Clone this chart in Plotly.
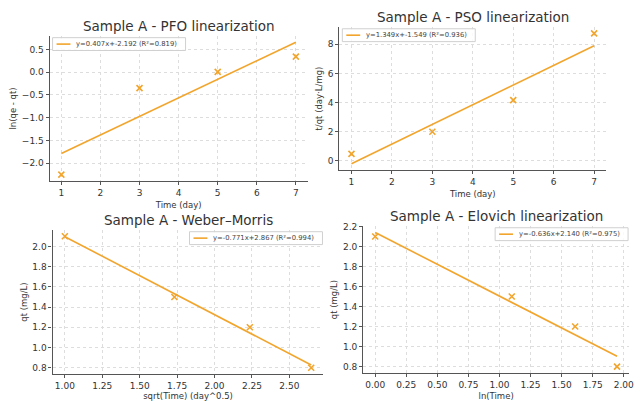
import numpy as np
import plotly.graph_objects as go

# Data
time_day = [1, 3, 5, 7]
qt = [2.1, 1.5, 1.2, 0.8]
ln_qe_qt = [-2.25, -0.35, 0.005, 0.34]
t_over_qt = [0.476, 2.0, 4.167, 8.75]
sqrt_time = [1.0, 1.732, 2.236, 2.646]
ln_time = [0.0, 1.099, 1.609, 1.946]

titles = ["Sample A - PFO linearization", "Sample A - PSO linearization",
          "Sample A - Weber\u2013Morris", "Sample A - Elovich linearization"]
slopes = [0.407, 1.349, -0.771, -0.636]
intercepts = [-2.192, -1.549, 2.867, 2.140]
r2 = [0.819, 0.936, 0.994, 0.975]
xlabels = ["Time (day)", "Time (day)", "sqrt(Time) (day^0.5)", "ln(Time)"]
ylabels = ["ln(qe - qt)", "t/qt (day\u00b7L/mg)", "qt (mg/L)", "qt (mg/L)"]

xs = [time_day, time_day, sqrt_time, ln_time]
ys = [ln_qe_qt, t_over_qt, qt, qt]

W, H = 644, 401
# pixel boxes: left, right, top, bottom
boxes = [(50, 310, 32, 179), (342, 611, 23, 168), (53, 326, 228, 374), (366, 634, 224, 373)]
xranges = [[0.7, 7.3], [0.7, 7.3], [0.918, 2.728], [-0.097, 2.043]]
yranges = [[-2.395, 0.80], [-0.65, 9.2], [0.735, 2.165], [0.733, 2.207]]
xdticks = [1, 1, 0.25, 0.25]
ydticks = [0.5, 2, 0.2, 0.2]
xtickfmt = ["", "", ".2f", ".2f"]
ytickfmt = [".1f", "", ".1f", ".1f"]
legend_pos = ["left", "left", "right", "right"]

color = "#F2A52C"
font = "DejaVu Sans"

fig = go.Figure()
layout = dict(width=W, height=H, margin=dict(l=0, r=0, t=0, b=0),
              paper_bgcolor="white", plot_bgcolor="white",
              font=dict(family=font, size=8, color="#333333"),
              annotations=[], shapes=[], showlegend=False)


def px(xp):
    return xp / W


def py(yp):
    return 1 - yp / H


for i in range(4):
    l, r, t, b = boxes[i]
    xa = "xaxis" if i == 0 else f"xaxis{i+1}"
    ya = "yaxis" if i == 0 else f"yaxis{i+1}"
    xref = "x" if i == 0 else f"x{i+1}"
    yref = "y" if i == 0 else f"y{i+1}"
    x_line = np.array([min(xs[i]), max(xs[i])])
    y_line = slopes[i] * x_line + intercepts[i]
    name = f"y={slopes[i]:.3f}x+{intercepts[i]:.3f} (R\u00b2={r2[i]:.3f})"
    fig.add_trace(go.Scatter(x=xs[i], y=ys[i], mode="markers", xaxis=xref, yaxis=yref,
                             marker=dict(symbol="x-thin", size=6, color=color,
                                         line=dict(width=1.6, color=color)),
                             name="data"))
    fig.add_trace(go.Scatter(x=x_line, y=y_line, mode="lines", xaxis=xref, yaxis=yref,
                             line=dict(color=color, width=1.6), name=name))
    layout[xa] = dict(domain=[px(l), px(r)], range=xranges[i], anchor=yref,
                      dtick=xdticks[i], tick0=0, tickformat=xtickfmt[i],
                      showline=True, linecolor="#555555", linewidth=1.2,
                      ticks="outside", ticklen=3, tickcolor="#555555",
                      showgrid=True, gridcolor="#dddddd", griddash="dot", gridwidth=1,
                      zeroline=False, tickfont=dict(size=9),
                      title=dict(text=xlabels[i], font=dict(size=8.5), standoff=4))
    layout[ya] = dict(domain=[py(b), py(t)], range=yranges[i], anchor=xref,
                      dtick=ydticks[i], tick0=0, tickformat=ytickfmt[i],
                      showline=True, linecolor="#555555", linewidth=1.2,
                      ticks="outside", ticklen=3, tickcolor="#555555",
                      showgrid=True, gridcolor="#dddddd", griddash="dot", gridwidth=1,
                      zeroline=False, tickfont=dict(size=9),
                      title=dict(text=ylabels[i], font=dict(size=8.5), standoff=3))
    # legend box drawn in pixel coordinates
    bw, bh = 134, 13
    if legend_pos[i] == "left":
        bx0 = l + 3
    else:
        bx0 = r - 1 - bw
    by0 = t + 2
    layout["shapes"].append(dict(type="rect", xref="paper", yref="paper",
                                 x0=px(bx0), x1=px(bx0 + bw), y0=py(by0 + bh), y1=py(by0),
                                 line=dict(color="#d0d0d0", width=1),
                                 fillcolor="rgba(255,255,255,0.85)"))
    layout["shapes"].append(dict(type="line", xref="paper", yref="paper",
                                 x0=px(bx0 + 4), x1=px(bx0 + 18), y0=py(by0 + bh / 2),
                                 y1=py(by0 + bh / 2),
                                 line=dict(color=color, width=1.6)))
    layout["annotations"].append(dict(text=name, x=px(bx0 + 22), y=py(by0 + bh / 2),
                                      xref="paper", yref="paper", showarrow=False,
                                      font=dict(size=6.8, color="#444444"),
                                      xanchor="left", yanchor="middle"))
    layout["annotations"].append(dict(text=titles[i], x=px((l + r) / 2), y=py(t - 10),
                                      xref="paper", yref="paper", showarrow=False,
                                      font=dict(size=13.5, color="#333333"),
                                      xanchor="center", yanchor="middle"))

fig.update_layout(**layout)
fig.write_html("out.html", config={"displayModeBar": False},
               post_script="document.body.style.margin='0px';")
